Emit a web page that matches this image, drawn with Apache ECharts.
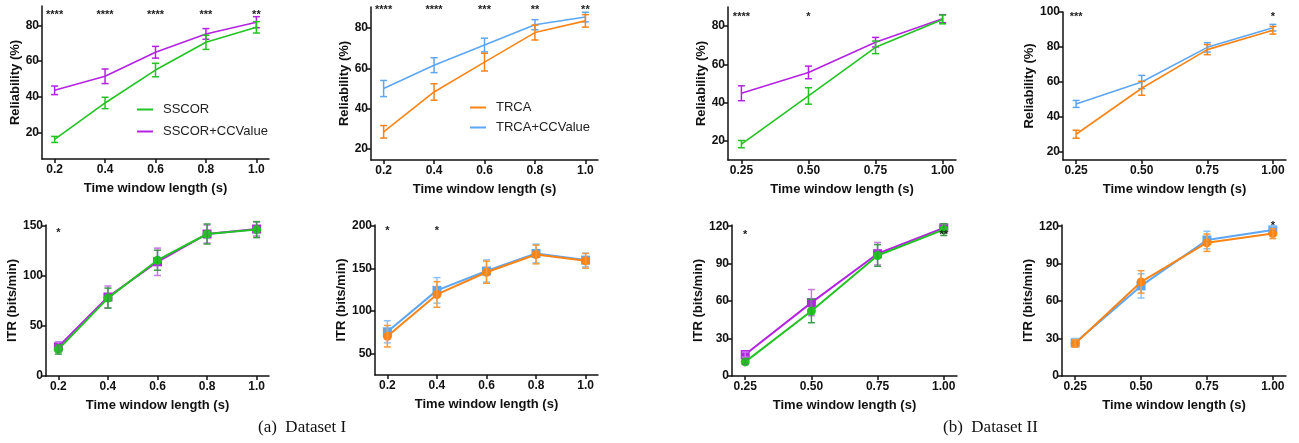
<!DOCTYPE html>
<html><head><meta charset="utf-8">
<script src="https://cdn.jsdelivr.net/npm/echarts@6/dist/echarts.min.js"></script>
<style>html,body{margin:0;padding:0;background:#fff}#c{width:1299px;height:443px}</style>
</head><body><div id="c"></div>
<script>
// ---------- data ----------
const twI = [0.2, 0.4, 0.6, 0.8, 1.0];
const twII = [0.25, 0.5, 0.75, 1.0];
const xTicksI = [0.2, 0.4, 0.6, 0.8, 1.0];
const xTicksII = [0.25, 0.5, 0.75, 1.0];

// Reliability (%) – Dataset I
const relSSCOR_I = [16, 36.5, 55, 70.6, 79];
const relSSCOR_I_err = [1.7, 3.2, 3.8, 4, 3.2];
const relSSCORcc_I = [43.6, 51.5, 65, 75.3, 81.9];
const relSSCORcc_I_err = [2.4, 4.1, 3.3, 3, 3.1];
const relTRCA_I = [28.5, 48.3, 63.1, 77.8, 83.6];
const relTRCA_I_err = [3.1, 4.1, 4.4, 3.7, 3.1];
const relTRCAcc_I = [50, 61.6, 71.6, 81.7, 85.5];
const relTRCAcc_I_err = [4, 3.7, 3.4, 2.5, 2.4];
// Reliability (%) – Dataset II
const relSSCOR_II = [18.3, 43.5, 68.9, 83.5];
const relSSCOR_II_err = [1.9, 4.3, 3.3, 2.3];
const relSSCORcc_II = [44.9, 55.8, 71.6, 83.9];
const relSSCORcc_II_err = [3.9, 3.3, 2.5, 2.1];
const relTRCA_II = [29.8, 56.2, 78.4, 89.5];
const relTRCA_II_err = [2.3, 4, 2.9, 2.2];
const relTRCAcc_II = [47.2, 59.8, 79.7, 91];
const relTRCAcc_II_err = [2, 3.8, 2.7, 1.9];
// ITR (bits/min) – Dataset I
const itrSSCOR_I = [26.6, 77.9, 115.8, 142, 146.4];
const itrSSCOR_I_err = [4.7, 10, 10, 10, 8];
const itrSSCORcc_I = [29.2, 79, 114.2, 142, 147];
const itrSSCORcc_I_err = [5, 11, 13.7, 9, 7];
const itrTRCA_I = [70.5, 119.5, 145.6, 166.4, 159];
const itrTRCA_I_err = [12.6, 15, 13, 11, 8.7];
const itrTRCAcc_I = [75.7, 124.3, 147, 167.6, 159.8];
const itrTRCAcc_I_err = [13, 15, 13, 11, 8];
// ITR (bits/min) – Dataset II
const itrSSCOR_II = [11.3, 52.1, 96.6, 117.3];
const itrSSCOR_II_err = [2, 9.4, 8.7, 4.7];
const itrSSCORcc_II = [17.2, 58.8, 98, 118.7];
const itrSSCORcc_II_err = [2, 10.5, 9, 3];
const itrTRCA_II = [26.1, 75.4, 106.8, 114.1];
const itrTRCA_II_err = [3, 9, 7, 4];
const itrTRCAcc_II = [26.6, 72.2, 109, 117];
const itrTRCAcc_II_err = [3.5, 9.7, 7, 3.2];

// significance marks
const sigRelSSCOR_I = ['****', '****', '****', '***', '**'];
const sigRelTRCA_I = ['****', '****', '***', '**', '**'];
const sigRelSSCOR_II = ['****', '*', '', ''];
const sigRelTRCA_II = ['***', '', '', '*'];
const sigItrSSCOR_I = ['*', '', '', '', ''];
const sigItrTRCA_I = ['*', '*', '', '', ''];
const sigItrSSCOR_II = ['*', '', '', '**'];
const sigItrTRCA_II = ['', '', '', '*'];

// y tick labels
const relTicks = [20, 40, 60, 80];
const relTicks100 = [20, 40, 60, 80, 100];
const itrTicksA = [0, 50, 100, 150];
const itrTicksB = [50, 100, 150, 200];
const itrTicksII = [0, 30, 60, 90, 120];

const captions = ['(a)  Dataset I', '(b)  Dataset II'];

// ---------- styles ----------
const C = {green:'#22c322', purple:'#b422e2', orange:'#fb8416', blue:'#5ca6f4'};
const FONT = 'Liberation Sans, Arial, sans-serif';

const panels = [
  {g:[42,6,227,153], x:twI, xt:xTicksI, xr:[0.15,1.05], dec:1, yr:[5,91], yt:relTicks, yname:'Reliability (%)', ygap:20, sig:sigRelSSCOR_I, sigY:87.5, sym:false,
   s:[{n:'SSCOR+CCValue', v:relSSCORcc_I, e:relSSCORcc_I_err, c:C.purple, ec:C.purple},
      {n:'SSCOR', v:relSSCOR_I, e:relSSCOR_I_err, c:C.green, ec:C.green}]},
  {g:[371,7,227,153], x:twI, xt:xTicksI, xr:[0.15,1.05], dec:1, yr:[14.5,90.5], yt:relTicks, yname:'Reliability (%)', ygap:20, sig:sigRelTRCA_I, sigY:90.3, sym:false,
   s:[{n:'TRCA+CCValue', v:relTRCAcc_I, e:relTRCAcc_I_err, c:C.blue, ec:C.blue},
      {n:'TRCA', v:relTRCA_I, e:relTRCA_I_err, c:C.orange, ec:C.orange}]},
  {g:[728,7,228,153], x:twII, xt:xTicksII, xr:[0.2,1.05], dec:2, yr:[10,90], yt:relTicks, yname:'Reliability (%)', ygap:20, sig:sigRelSSCOR_II, sigY:86.5, sym:false,
   s:[{n:'SSCOR+CCValue', v:relSSCORcc_II, e:relSSCORcc_II_err, c:C.purple, ec:C.purple},
      {n:'SSCOR', v:relSSCOR_II, e:relSSCOR_II_err, c:C.green, ec:C.green}]},
  {g:[1063,12,223,148], x:twII, xt:xTicksII, xr:[0.2,1.05], dec:2, yr:[15,100], yt:relTicks100, yname:'Reliability (%)', ygap:24, sig:sigRelTRCA_II, sigY:99, sym:false,
   s:[{n:'TRCA+CCValue', v:relTRCAcc_II, e:relTRCAcc_II_err, c:C.blue, ec:C.blue},
      {n:'TRCA', v:relTRCA_II, e:relTRCA_II_err, c:C.orange, ec:C.orange}]},
  {g:[46,225,223,151], x:twI, xt:xTicksI, xr:[0.15,1.05], dec:1, yr:[0,151], yt:itrTicksA, yname:'ITR (bits/min)', ygap:25, sig:sigItrSSCOR_I, sigY:146, sym:true,
   s:[{n:'SSCOR+CCValue', v:itrSSCORcc_I, e:itrSSCORcc_I_err, c:C.purple, ec:'#c47ae8', sh:'rect'},
      {n:'SSCOR', v:itrSSCOR_I, e:itrSSCOR_I_err, c:C.green, ec:'#3c9a48', sh:'circle'}]},
  {g:[375,225,223,150], x:twI, xt:xTicksI, xr:[0.15,1.05], dec:1, yr:[25,201], yt:itrTicksB, yname:'ITR (bits/min)', ygap:25, sig:sigItrTRCA_I, sigY:198, sym:true,
   s:[{n:'TRCA+CCValue', v:itrTRCAcc_I, e:itrTRCAcc_I_err, c:C.blue, ec:'#8cc2f6', sh:'rect'},
      {n:'TRCA', v:itrTRCA_I, e:itrTRCA_I_err, c:C.orange, ec:'#f59a3c', sh:'circle'}]},
  {g:[732,225,225,151], x:twII, xt:xTicksII, xr:[0.2,1.05], dec:2, yr:[0,121], yt:itrTicksII, yname:'ITR (bits/min)', ygap:25, sig:sigItrSSCOR_II, sigY:115.5, sym:true,
   s:[{n:'SSCOR+CCValue', v:itrSSCORcc_II, e:itrSSCORcc_II_err, c:C.purple, ec:'#c47ae8', sh:'rect'},
      {n:'SSCOR', v:itrSSCOR_II, e:itrSSCOR_II_err, c:C.green, ec:'#3c9a48', sh:'circle'}]},
  {g:[1062,225,224,151], x:twII, xt:xTicksII, xr:[0.2,1.05], dec:2, yr:[0,121], yt:itrTicksII, yname:'ITR (bits/min)', ygap:25, sig:sigItrTRCA_II, sigY:123, sym:true,
   s:[{n:'TRCA+CCValue', v:itrTRCAcc_II, e:itrTRCAcc_II_err, c:C.blue, ec:'#8cc2f6', sh:'rect'},
      {n:'TRCA', v:itrTRCA_II, e:itrTRCA_II_err, c:C.orange, ec:'#f59a3c', sh:'circle'}]}
];

const grid = [], xAxis = [], yAxis = [], series = [];
const axisLineStyle = {color:'#111', width:1.5};
const labelStyle = {fontFamily:FONT, fontWeight:'bold', fontSize:12, color:'#111'};

panels.forEach((p, i) => {
  grid.push({left:p.g[0], top:p.g[1], width:p.g[2], height:p.g[3], containLabel:false});
  xAxis.push({
    type:'value', gridIndex:i, min:p.xr[0], max:p.xr[1],
    name:'Time window length (s)', nameLocation:'middle', nameGap:23,
    nameTextStyle:{fontFamily:FONT, fontWeight:'bold', fontSize:13, color:'#111'},
    axisLine:{show:true, lineStyle:axisLineStyle},
    axisTick:{show:true, length:4, inside:false, customValues:p.xt, lineStyle:axisLineStyle},
    axisLabel:{show:true, margin:5, customValues:p.xt, formatter:v => Number(v).toFixed(p.dec), ...labelStyle},
    splitLine:{show:false}
  });
  yAxis.push({
    type:'value', gridIndex:i, min:p.yr[0], max:p.yr[1],
    name:p.yname, nameLocation:'middle', nameGap:p.ygap, nameRotate:90,
    nameTextStyle:{fontFamily:FONT, fontWeight:'bold', fontSize:13, color:'#111'},
    axisLine:{show:true, lineStyle:axisLineStyle},
    axisTick:{show:true, length:4, inside:false, customValues:p.yt, lineStyle:axisLineStyle},
    axisLabel:{show:true, margin:3, customValues:p.yt, ...labelStyle},
    splitLine:{show:false}
  });
  p.s.forEach((s, k) => {
    series.push({
      type:'line', name:s.n, xAxisIndex:i, yAxisIndex:i,
      data:p.x.map((x, j) => [x, s.v[j]]),
      showSymbol:p.sym, symbol:s.sh || 'none', symbolSize:p.sym ? 9 : 0,
      lineStyle:{color:s.c, width:p.sym ? 2 : 1.6},
      itemStyle:{color:s.c},
      z:3 + k, animation:false, silent:true
    });
    series.push({
      type:'custom', xAxisIndex:i, yAxisIndex:i, z:4 + k, silent:true, animation:false,
      data:p.x.map((x, j) => [x, s.v[j], s.e[j]]),
      encode:{x:0, y:1},
      renderItem:(params, api) => {
        const x = api.value(0), m = api.value(1), e = api.value(2);
        const t = api.coord([x, m + e]), b = api.coord([x, m - e]);
        const w = 3.5, st = {stroke:s.ec, lineWidth:1.5};
        return {type:'group', children:[
          {type:'line', shape:{x1:t[0], y1:t[1], x2:b[0], y2:b[1]}, style:st},
          {type:'line', shape:{x1:t[0]-w, y1:t[1], x2:t[0]+w, y2:t[1]}, style:st},
          {type:'line', shape:{x1:b[0]-w, y1:b[1], x2:b[0]+w, y2:b[1]}, style:st}
        ]};
      }
    });
  });
  // significance marks
  series.push({
    type:'custom', xAxisIndex:i, yAxisIndex:i, z:10, silent:true, animation:false,
    data:p.x.map((x, j) => [x, p.sigY, j]),
    encode:{x:0, y:1},
    renderItem:(params, api) => {
      const pt = api.coord([api.value(0), api.value(1)]);
      return {type:'text', x:pt[0], y:pt[1] + 3, style:{text:p.sig[api.value(2)], fill:'#222',
        font:'bold 11px ' + FONT, align:'center', verticalAlign:'middle'}};
    }
  });
});

const legendCommon = {orient:'vertical', icon:'rect', itemWidth:16, itemHeight:2,
  textStyle:{fontFamily:FONT, fontSize:13, color:'#222', padding:[0,0,0,5]}, selectedMode:false, padding:0};

const option = {
  backgroundColor:'#fff',
  animation:false,
  title:[
    {text:captions[0], left:258, top:419, padding:0, textStyle:{fontFamily:'Liberation Serif, Times New Roman, serif', fontSize:17, fontWeight:'normal', color:'#111'}},
    {text:captions[1], left:943, top:419, padding:0, textStyle:{fontFamily:'Liberation Serif, Times New Roman, serif', fontSize:17, fontWeight:'normal', color:'#111'}}
  ],
  legend:[
    {...legendCommon, left:137, top:103, itemGap:9, data:['SSCOR', 'SSCOR+CCValue']},
    {...legendCommon, left:470, top:101, itemGap:7, data:['TRCA', 'TRCA+CCValue']}
  ],
  grid, xAxis, yAxis, series
};

const chart = echarts.init(document.getElementById('c'), null, {renderer:'canvas'});
chart.setOption(option);
</script>
</body></html>
